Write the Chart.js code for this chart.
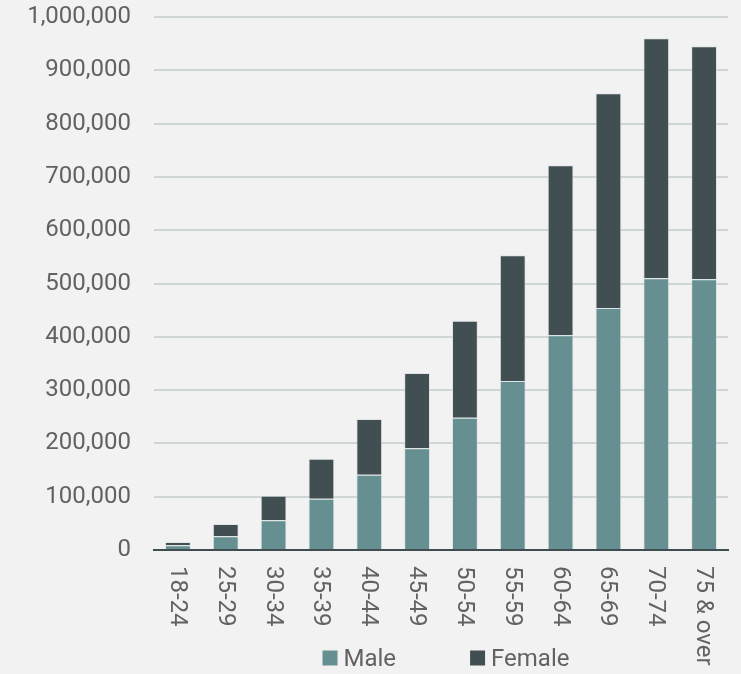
<!DOCTYPE html>
<html>
<head>
<meta charset="utf-8">
<script src="https://cdn.jsdelivr.net/npm/chart.js@4/dist/chart.umd.min.js"></script>
<style>
  html, body { margin: 0; padding: 0; background: #f2f2f2; }
  #wrap { width: 741px; height: 674px; }
</style>
</head>
<body>
<div id="wrap"><canvas id="ageChart" width="741" height="674"></canvas></div>
<script>
// age groups and counts
var ageGroups = ['18-24', '25-29', '30-34', '35-39', '40-44', '45-49', '50-54', '55-59', '60-64', '65-69', '70-74', '75 & over'];
var maleValues = [9000, 26000, 56000, 96000, 141000, 191000, 248000, 317000, 403000, 454000, 510000, 508000];
var femaleValues = [6000, 23000, 46000, 75000, 105000, 141000, 182000, 236000, 319000, 403000, 450000, 437000];
var seriesNames = ['Male', 'Female'];
var seriesColors = ['#658f91', '#414f52'];

var textColor = '#626262';
var fontName = 'Roboto, "Liberation Sans", sans-serif';

// x labels read top-to-bottom, plus the legend under the chart
var extrasPlugin = {
	id: 'extras',
	afterDraw: function (chart) {
		var ctx = chart.ctx;
		var xs = chart.scales.x;
		ctx.save();
		ctx.font = '24px ' + fontName;
		ctx.fillStyle = textColor;
		ctx.textAlign = 'left';
		ctx.textBaseline = 'middle';
		for (var i = 0; i < ageGroups.length; i++) {
			ctx.save();
			ctx.translate(xs.getPixelForTick(i) - 1, xs.top + 16);
			ctx.rotate(Math.PI / 2);
			ctx.fillText(ageGroups[i], 0, 0);
			ctx.restore();
		}

		// legend
		var box = 15, gapText = 6, gapItem = 74;
		var widths = seriesNames.map(function (n) { return ctx.measureText(n).width; });
		var total = box * 2 + gapText * 2 + widths[0] + widths[1] + gapItem;
		var cx = (chart.chartArea.left + chart.chartArea.right) / 2 + 5;
		var x = cx - total / 2;
		var y = 658;
		for (var j = 0; j < seriesNames.length; j++) {
			ctx.fillStyle = seriesColors[j];
			ctx.fillRect(x, y - box / 2, box, box);
			x += box + gapText;
			ctx.fillStyle = textColor;
			ctx.fillText(seriesNames[j], x, y + 2);
			x += widths[j] + gapItem;
		}
		ctx.restore();
	}
};

var ctx = document.getElementById('ageChart').getContext('2d');

var ageChart = new Chart(ctx, {
	type: 'bar',
	data: {
		labels: ageGroups,
		datasets: [{
			label: seriesNames[0],
			data: maleValues,
			backgroundColor: seriesColors[0],
			borderColor: 'rgba(210,220,221,0.6)',
			borderWidth: 1,
			borderSkipped: 'bottom',
			barPercentage: 0.54,
			categoryPercentage: 1
		}, {
			label: seriesNames[1],
			data: femaleValues,
			backgroundColor: seriesColors[1],
			borderColor: 'rgba(210,220,221,0.6)',
			borderWidth: 1,
			borderSkipped: 'bottom',
			barPercentage: 0.54,
			categoryPercentage: 1
		}]
	},
	options: {
		responsive: false,
		animation: false,
		layout: { padding: { top: 0, right: 13, bottom: 0, left: 0 } },
		plugins: {
			legend: { display: false },
			tooltip: { enabled: false }
		},
		scales: {
			x: {
				stacked: true,
				grid: { display: false },
				border: { color: '#3f4d50', width: 2 },
				ticks: { display: false },
				afterFit: function (scale) { scale.height = 124; }
			},
			y: {
				stacked: true,
				min: 0,
				max: 1000000,
				border: { display: false },
				grid: {
					color: function (c) { return c.tick && c.tick.value === 0 ? '#3f4d50' : '#cdd5d6'; },
					lineWidth: 2,
					drawTicks: false
				},
				ticks: {
					stepSize: 100000,
					padding: 23,
					color: textColor,
					font: { family: fontName, size: 24 },
					callback: function (v) { return v.toLocaleString('en-US'); }
				},
				afterFit: function (scale) {
					scale.width = 154;
					scale.paddingTop = 17;
					scale.paddingBottom = 0;
				}
			}
		}
	},
	plugins: [extrasPlugin]
});
</script>
</body>
</html>
